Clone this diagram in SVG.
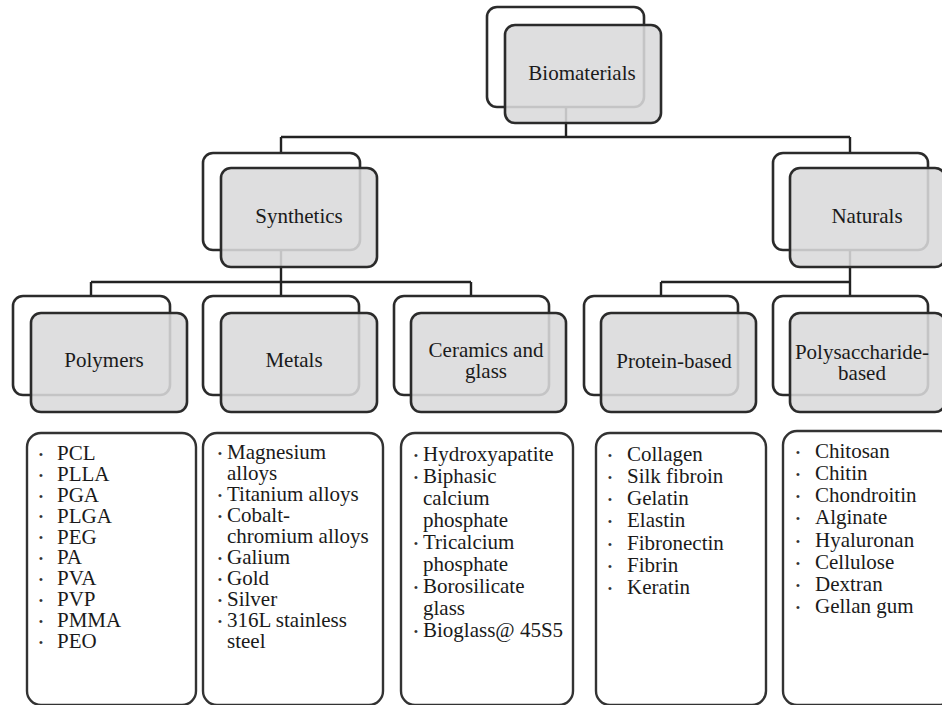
<svg xmlns="http://www.w3.org/2000/svg" width="942" height="705" viewBox="0 0 942 705">
<style>
.bk{fill:none;stroke:#2b2b2b;stroke-width:2.6}
.fr{fill:#d9d9db;fill-opacity:0.88;stroke:#2b2b2b;stroke-width:2.6}
.lst{fill:#ffffff;stroke:#333333;stroke-width:2.4}
.cn{fill:none;stroke:#222222;stroke-width:2.4}
.t{font-family:"Liberation Serif","Times New Roman",serif;font-size:21px;fill:#1a1a1a}
.c{text-anchor:middle}
.b{font-family:"Liberation Sans",Arial,sans-serif;font-size:11px;fill:#333333;text-anchor:middle}
</style>
<rect width="942" height="705" fill="#ffffff"/>
<g id="connectors">
<path class="cn" d="M566,107V137M281,137H850M281,137V153M850,137V153M281,250V296M91,282H471M91,282V296M471,282V296M850,250V296M661,282H850M661,282V296"/>
</g>
<g id="biomaterials">
<rect class="bk" x="487" y="7" width="157" height="100" rx="10"/>
<rect class="fr" x="505" y="25" width="156" height="98" rx="10"/>
<text class="t c" x="582" y="80">Biomaterials</text>
</g>
<g id="synthetics">
<rect class="bk" x="203" y="153" width="157" height="97" rx="10"/>
<rect class="fr" x="221" y="168" width="156" height="99" rx="10"/>
<text class="t c" x="299" y="223">Synthetics</text>
</g>
<g id="naturals">
<rect class="bk" x="773" y="153" width="155" height="97" rx="10"/>
<rect class="fr" x="790" y="168" width="155" height="99" rx="10"/>
<text class="t c" x="867" y="223">Naturals</text>
</g>
<g id="polymers">
<rect class="bk" x="13" y="296" width="157" height="99" rx="10"/>
<rect class="fr" x="31" y="313" width="156" height="99" rx="10"/>
<text class="t c" x="104" y="367">Polymers</text>
</g>
<g id="metals">
<rect class="bk" x="203" y="296" width="156" height="99" rx="10"/>
<rect class="fr" x="221" y="313" width="156" height="99" rx="10"/>
<text class="t c" x="294" y="367">Metals</text>
</g>
<g id="ceramics">
<rect class="bk" x="394" y="296" width="155" height="99" rx="10"/>
<rect class="fr" x="411" y="313" width="155" height="99" rx="10"/>
<text class="t c" x="486" y="357">Ceramics and</text>
<text class="t c" x="486" y="378">glass</text>
</g>
<g id="protein">
<rect class="bk" x="584" y="296" width="154" height="99" rx="10"/>
<rect class="fr" x="601" y="313" width="155" height="99" rx="10"/>
<text class="t c" x="674" y="368">Protein-based</text>
</g>
<g id="polysaccharide">
<rect class="bk" x="773" y="296" width="155" height="99" rx="10"/>
<rect class="fr" x="790" y="313" width="155" height="99" rx="10"/>
<text class="t c" x="862" y="359">Polysaccharide-</text>
<text class="t c" x="862" y="380">based</text>
</g>
<g id="list-polymers">
<rect class="lst" x="27" y="433" width="169" height="272" rx="14"/>
<g class="b"><text x="41" y="458">•</text><text x="41" y="479">•</text><text x="41" y="500">•</text><text x="41" y="520">•</text><text x="41" y="541">•</text><text x="41" y="562">•</text><text x="41" y="583">•</text><text x="41" y="604">•</text><text x="41" y="625">•</text><text x="41" y="646">•</text></g>
<text class="t" x="57" y="460">PCL</text>
<text class="t" x="57" y="481">PLLA</text>
<text class="t" x="57" y="502">PGA</text>
<text class="t" x="57" y="523">PLGA</text>
<text class="t" x="57" y="544">PEG</text>
<text class="t" x="57" y="564">PA</text>
<text class="t" x="57" y="585">PVA</text>
<text class="t" x="57" y="606">PVP</text>
<text class="t" x="57" y="627">PMMA</text>
<text class="t" x="57" y="648">PEO</text>
</g>
<g id="list-metals">
<rect class="lst" x="203" y="433" width="180" height="272" rx="14"/>
<g class="b"><text x="220" y="457">•</text><text x="220" y="499">•</text><text x="220" y="520">•</text><text x="220" y="562">•</text><text x="220" y="583">•</text><text x="220" y="604">•</text><text x="220" y="625">•</text></g>
<text class="t" x="227" y="459">Magnesium</text>
<text class="t" x="227" y="480">alloys</text>
<text class="t" x="227" y="501">Titanium alloys</text>
<text class="t" x="227" y="522">Cobalt-</text>
<text class="t" x="227" y="543">chromium alloys</text>
<text class="t" x="227" y="564">Galium</text>
<text class="t" x="227" y="585">Gold</text>
<text class="t" x="227" y="606">Silver</text>
<text class="t" x="227" y="627">316L stainless</text>
<text class="t" x="227" y="648">steel</text>
</g>
<g id="list-ceramics">
<rect class="lst" x="401" y="433" width="172" height="272" rx="14"/>
<g class="b"><text x="416" y="459">•</text><text x="416" y="481">•</text><text x="416" y="547">•</text><text x="416" y="591">•</text><text x="416" y="635">•</text></g>
<text class="t" x="423" y="461">Hydroxyapatite</text>
<text class="t" x="423" y="483">Biphasic</text>
<text class="t" x="423" y="505">calcium</text>
<text class="t" x="423" y="527">phosphate</text>
<text class="t" x="423" y="549">Tricalcium</text>
<text class="t" x="423" y="571">phosphate</text>
<text class="t" x="423" y="593">Borosilicate</text>
<text class="t" x="423" y="615">glass</text>
<text class="t" x="423" y="637">Bioglass@ 45S5</text>
</g>
<g id="list-protein">
<rect class="lst" x="596" y="433" width="170" height="272" rx="14"/>
<g class="b"><text x="610" y="459">•</text><text x="610" y="481">•</text><text x="610" y="503">•</text><text x="610" y="525">•</text><text x="610" y="548">•</text><text x="610" y="570">•</text><text x="610" y="592">•</text></g>
<text class="t" x="627" y="461">Collagen</text>
<text class="t" x="627" y="483">Silk fibroin</text>
<text class="t" x="627" y="505">Gelatin</text>
<text class="t" x="627" y="527">Elastin</text>
<text class="t" x="627" y="550">Fibronectin</text>
<text class="t" x="627" y="572">Fibrin</text>
<text class="t" x="627" y="594">Keratin</text>
</g>
<g id="list-polysaccharide">
<rect class="lst" x="783" y="431" width="170" height="274" rx="14"/>
<g class="b"><text x="798" y="456">•</text><text x="798" y="478">•</text><text x="798" y="500">•</text><text x="798" y="522">•</text><text x="798" y="545">•</text><text x="798" y="567">•</text><text x="798" y="589">•</text><text x="798" y="611">•</text></g>
<text class="t" x="815" y="458">Chitosan</text>
<text class="t" x="815" y="480">Chitin</text>
<text class="t" x="815" y="502">Chondroitin</text>
<text class="t" x="815" y="524">Alginate</text>
<text class="t" x="815" y="547">Hyaluronan</text>
<text class="t" x="815" y="569">Cellulose</text>
<text class="t" x="815" y="591">Dextran</text>
<text class="t" x="815" y="613">Gellan gum</text>
</g>
</svg>
